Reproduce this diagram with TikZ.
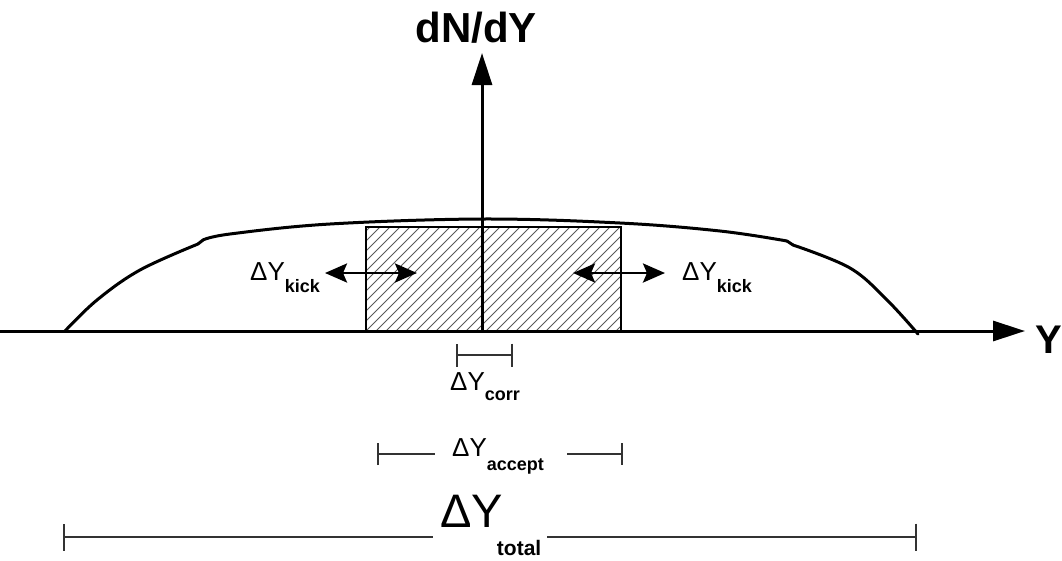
\documentclass[tikz,border=0pt]{standalone}
\usepackage{fontspec}
\setmainfont{Liberation Sans}
\usetikzlibrary{arrows.meta}
\newcommand\dyA[1]{{\fontsize{26}{26}\selectfont #1}}
\newcommand\subA[1]{{\fontsize{18}{18}\selectfont\bfseries #1}}
\begin{document}
\begin{tikzpicture}[x=1pt,y=-1pt,
  axisline/.style={line width=3pt,-{Triangle[length=32pt,width=20pt]}},
  curveline/.style={line width=3pt,line cap=round,line join=round},
  kickarrow/.style={line width=2.8pt,{Stealth[length=22pt,width=19pt,inset=4pt]}-{Stealth[length=22pt,width=19pt,inset=4pt]}},
  barline/.style={line width=2pt,draw=black!80},
  hatchline/.style={line width=0.8pt,draw=black!65},
  lbl/.style={inner sep=0pt,anchor=base west},
  axlbl/.style={inner sep=0pt,font=\fontsize{42}{42}\selectfont\bfseries}]
\useasboundingbox (0,0) rectangle (1062,560);
% hatched box
\begin{scope}
  \clip (366,227) rectangle (621,331);
  \foreach \x in {256,266,...,626} {\draw[hatchline] (\x,331) -- ++(104,-104);}
\end{scope}
\draw[line width=1.5pt] (366,227) rectangle (621,331);
% curve
\draw[curveline] plot[smooth,tension=0.6] coordinates {(65,331) (97,300) (140,270) (198,244)};
\draw[curveline] (198,244) -- (203,240);
\draw[curveline] plot[smooth,tension=0.6] coordinates {(203,240) (230,234) (330,224) (483,219) (620,223) (720,231) (787,241)};
\draw[curveline] (787,241) -- (793,245);
\draw[curveline] plot[smooth,tension=0.6] coordinates {(793,245) (850,268) (887,300) (918,334)};
% axes
\coordinate (xstart) at (0,331);
\coordinate (xend) at (1025,331);
\coordinate (orig) at (482,331);
\coordinate (yend) at (482,53);
\draw[axisline] (xstart) -- (xend);
\draw[axisline] (orig) -- (yend);
\node[axlbl,anchor=base] (dndy) at (476,42) {dN/dY};
\node[axlbl,anchor=base west,font=\fontsize{40}{40}\selectfont\bfseries] (ylab) at (1035,353) {Y};
% kick arrows
\coordinate (kl1) at (325,273); \coordinate (kl2) at (417,273);
\coordinate (kr1) at (573,273); \coordinate (kr2) at (665,273);
\draw[kickarrow] (kl1) -- (kl2);
\draw[kickarrow] (kr1) -- (kr2);
\node[lbl] (kickL) at (250,280) {\dyA{ΔY}\raisebox{-12pt}{\subA{kick}}};
\node[lbl] (kickR) at (682,280) {\dyA{ΔY}\raisebox{-12pt}{\subA{kick}}};
% corr
\coordinate (c1) at (456,355); \coordinate (c2) at (513,355);
\draw[barline,{Bar[width=23pt]}-{Bar[width=23pt]}] (c1) -- (c2);
\node[lbl] (corr) at (450,390) {\dyA{ΔY}\raisebox{-10pt}{\subA{corr}}};
% accept
\coordinate (a1) at (377,454); \coordinate (a2) at (435,454);
\coordinate (a3) at (567,454); \coordinate (a4) at (623,454);
\draw[barline,{Bar[width=22pt]}-] (a1) -- (a2);
\draw[barline,-{Bar[width=22pt]}] (a3) -- (a4);
\node[lbl] (accept) at (452,456) {\dyA{ΔY}\raisebox{-14pt}{\subA{accept}}};
% total
\coordinate (t1) at (63,537); \coordinate (t2) at (433,537);
\coordinate (t3) at (547,537); \coordinate (t4) at (917,537);
\draw[barline,{Bar[width=27pt]}-] (t1) -- (t2);
\draw[barline,-{Bar[width=27pt]}] (t3) -- (t4);
\node[lbl] (total) at (440,527) {{\fontsize{47}{47}\selectfont ΔY}\kern-6pt\raisebox{-28pt}{{\fontsize{21}{21}\selectfont\bfseries total}}};
\end{tikzpicture}
\end{document}
